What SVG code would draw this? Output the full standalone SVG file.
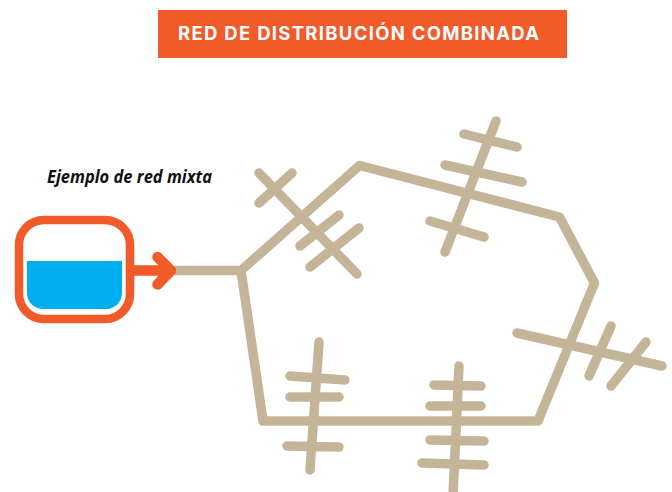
<svg xmlns="http://www.w3.org/2000/svg" width="672" height="492" viewBox="0 0 672 492">
<style>
.p{fill:none;stroke:#c4b599;stroke-width:9.500;stroke-linecap:round;stroke-linejoin:round}
.o{fill:none;stroke:#f15a29;stroke-linecap:round;stroke-linejoin:round}
.title{font-family:"Inter","Liberation Sans",sans-serif;font-weight:700;font-size:18.500px;fill:#fff}
.sub{font-family:"Open Sans","Liberation Sans",sans-serif;font-weight:700;font-style:italic;font-size:17px;fill:#111}
</style>
<rect width="672" height="492" fill="#fff"/>
<g id="title"><rect x="158" y="10" width="409" height="48" fill="#f15a29"/>
<text class="title" x="178" y="39.500" textLength="361" lengthAdjust="spacing">RED DE DISTRIBUCIÓN COMBINADA</text></g>
<g id="subtitle"><text class="sub" x="47" y="183" textLength="165" lengthAdjust="spacingAndGlyphs">Ejemplo de red mixta</text></g>
<g id="connectors">
<path class="p" d="M175 270.500H241L359.500 165.500L559.500 217L594.500 283L538 421H263L241 270.500"/>
<path class="p" d="M259 173L357 274M259 203L292 173M300 246L339 215M310 267L359 228"/>
<path class="p" d="M496 121L445 252M464 134L517 147M445 165L522 182M430 221L484 237"/>
<path class="p" d="M319 342L310 470M290 376L345 380M290 397L339 397M287 446L339 447"/>
<path class="p" d="M459 366L453 496M434 385L481 386M430 406L481 406M430 440L484 441M422 463L484 465"/>
<path class="p" d="M517 333L662 366M589 376L611 326M611 386L646 342"/>
</g>
<g id="tank">
<rect x="19" y="220" width="111" height="99" rx="25" fill="#fff" stroke="#f15a29" stroke-width="8.500"/>
<path d="M27 261H122V293A16 16 0 0 1 106 309H43A16 16 0 0 1 27 293Z" fill="#00aeef"/>
<path class="o" stroke-width="10.500" d="M134 270.500H170M157.500 257L171 270.500L157.500 284.500"/>
</g>
</svg>
